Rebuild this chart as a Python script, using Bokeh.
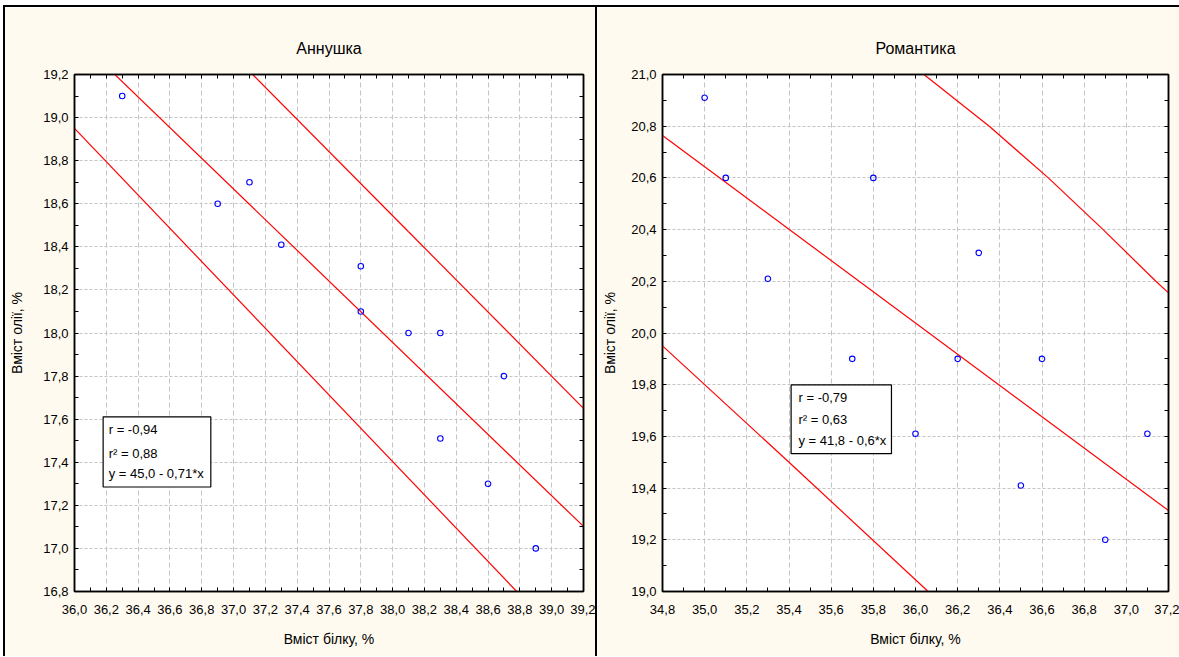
import numpy as np
from bokeh.plotting import figure
from bokeh.layouts import row, column
from bokeh.models import (LinearAxis, FixedTicker, CustomJSTickFormatter, Range1d,
                          Label, BoxAnnotation, Spacer, CustomLabelingPolicy)
from bokeh.embed import file_html
from bokeh.resources import INLINE

# ---------------- data ----------------
# Panel 1: "Аннушка"
ann_protein = [36.3, 36.9, 37.1, 37.3, 37.8, 37.8, 38.1, 38.3, 38.3, 38.6, 38.7, 38.9]
ann_oil = [19.1, 18.6, 18.7, 18.41, 18.31, 18.1, 18.0, 18.0, 17.51, 17.3, 17.8, 17.0]
ann_upper_x = [37.12, 38.1, 39.2]
ann_upper_y = [19.2, 18.47, 17.65]
ann_lower_x = [36.0, 38.78]
ann_lower_y = [18.95, 16.8]
ann_stats = ["r = -0,94", "r² = 0,88", "y = 45,0 - 0,71*x"]
ann_xticks = [36.0, 36.2, 36.4, 36.6, 36.8, 37.0, 37.2, 37.4, 37.6, 37.8, 38.0,
              38.2, 38.4, 38.6, 38.8, 39.0, 39.2]
ann_yticks = [16.8, 17.0, 17.2, 17.4, 17.6, 17.8, 18.0, 18.2, 18.4, 18.6, 18.8, 19.0, 19.2]

# Panel 2: "Романтика"
rom_protein = [35.0, 35.1, 35.3, 35.7, 35.8, 36.0, 36.2, 36.3, 36.5, 36.6, 36.9, 37.1]
rom_oil = [20.91, 20.6, 20.21, 19.9, 20.6, 19.61, 19.9, 20.31, 19.41, 19.9, 19.2, 19.61]
rom_upper_x = [36.04, 36.35, 36.63, 36.89, 37.14, 37.2]
rom_upper_y = [21.0, 20.8, 20.6, 20.4, 20.2, 20.155]
rom_lower_x = [34.8, 35.4, 36.06]
rom_lower_y = [19.95, 19.5, 19.0]
rom_stats = ["r = -0,79", "r² = 0,63", "y = 41,8 - 0,6*x"]
rom_xticks = [34.8, 35.0, 35.2, 35.4, 35.6, 35.8, 36.0, 36.2, 36.4, 36.6, 36.8, 37.0, 37.2]
rom_yticks = [19.0, 19.2, 19.4, 19.6, 19.8, 20.0, 20.2, 20.4, 20.6, 20.8, 21.0]

titles = ["Аннушка", "Романтика"]
x_label = "Вміст білку, %"
y_label = "Вміст олії, %"

# ---------------- styling ----------------
FONT = "Liberation Sans"
CREAM = "#FFFAEF"
GRID = "#C4C4C4"
RED = "#FF0000"
FIG_H = 651


def minors(ticks):
    return [round((a + b) / 2, 3) for a, b in zip(ticks[:-1], ticks[1:])]


def red_path(p, xs, ys):
    p.segment(x0=xs[:-1], y0=ys[:-1], x1=xs[1:], y1=ys[1:],
              line_color=RED, line_width=1.2)


def make_panel(title, xs, ys, up_x, up_y, lo_x, lo_y, stats, xt, yt,
               width, mb_left, mb_right, ylab_standoff, box, text_x, text_ys, border_css):
    fmt = CustomJSTickFormatter(code="return tick.toFixed(1).replace('.', ',');")
    p = figure(width=width, height=FIG_H,
               x_range=Range1d(xt[0], xt[-1]), y_range=Range1d(yt[0], yt[-1]),
               min_border_left=mb_left, min_border_right=mb_right,
               min_border_top=67, min_border_bottom=67,
               toolbar_location=None, output_backend="svg",
               background_fill_color="white", border_fill_color=CREAM,
               outline_line_color="black", outline_line_width=1.5,
               styles=border_css)
    p.title.text = title
    p.title.align = "center"
    p.title.text_font = FONT
    p.title.text_font_size = "16px"
    p.title.text_font_style = "normal"
    p.title.text_color = "black"
    p.title.standoff = 36

    xtick = FixedTicker(ticks=xt, minor_ticks=minors(xt))
    ytick = FixedTicker(ticks=yt, minor_ticks=minors(yt))

    for ax, tk in ((p.xaxis[0], xtick), (p.yaxis[0], ytick)):
        ax.ticker = tk
        ax.formatter = fmt
        ax.major_tick_in = 4
        ax.major_tick_out = 0
        ax.minor_tick_in = 4
        ax.minor_tick_out = 0
        ax.axis_line_color = "black"
        ax.axis_line_width = 1.5
        ax.major_tick_line_color = "black"
        ax.minor_tick_line_color = "black"
        ax.major_label_text_font = FONT
        ax.major_label_text_font_size = "13px"
        ax.major_label_text_color = "black"
        ax.major_label_standoff = 6
        ax.axis_label_text_font = FONT
        ax.axis_label_text_font_size = "14px"
        ax.axis_label_text_font_style = "normal"
        ax.axis_label_text_color = "black"
    p.xaxis[0].axis_label = x_label
    p.xaxis[0].axis_label_standoff = 14
    p.xaxis[0].major_label_standoff = 13
    p.yaxis[0].axis_label = y_label
    p.yaxis[0].axis_label_standoff = ylab_standoff

    hide = CustomLabelingPolicy(code="return [];")
    blank = CustomJSTickFormatter(code="return '';")
    for side, tk in (("above", xtick), ("right", ytick)):
        ax = LinearAxis(ticker=tk, formatter=blank, major_label_policy=hide,
                        major_label_text_font_size="0px",
                        major_label_standoff=0, major_tick_in=4, major_tick_out=0,
                        minor_tick_in=4, minor_tick_out=0, axis_line_color="black",
                        axis_line_width=1.5)
        p.add_layout(ax, side)

    p.xgrid.ticker = xtick
    p.ygrid.ticker = ytick
    p.xgrid.grid_line_color = GRID
    p.xgrid.grid_line_dash = "5 3"
    p.ygrid.grid_line_color = GRID
    p.ygrid.grid_line_dash = "3 2"

    # regression line fitted to the data
    slope, icpt = np.polyfit(xs, ys, 1)
    fx = [xt[0], xt[-1]]
    red_path(p, fx, [icpt + slope * v for v in fx])
    red_path(p, up_x, up_y)
    red_path(p, lo_x, lo_y)

    p.scatter(xs, ys, marker="circle", size=5.5, fill_color=None,
              line_color="blue", line_width=1.1)

    p.add_layout(BoxAnnotation(left=box[0], right=box[1], bottom=box[2], top=box[3],
                               fill_color="white", fill_alpha=1.0,
                               line_color="black", line_width=1.2, line_alpha=1.0))
    for txt, ty in zip(stats, text_ys):
        p.add_layout(Label(x=text_x, y=ty, text=txt, text_font=FONT,
                           text_font_size="13px", text_baseline="middle",
                           text_color="black"))
    return p


p1 = make_panel(titles[0], ann_protein, ann_oil, ann_upper_x, ann_upper_y,
                ann_lower_x, ann_lower_y, ann_stats, ann_xticks, ann_yticks,
                width=594, mb_left=69, mb_right=16, ylab_standoff=15,
                box=(36.18, 36.857, 17.285, 17.611), text_x=36.215,
                text_ys=(17.55, 17.44, 17.35),
                border_css={"border-top": "2px solid black",
                            "border-left": "2px solid black",
                            "border-right": "2px solid black"})

p2 = make_panel(titles[1], rom_protein, rom_oil, rom_upper_x, rom_upper_y,
                rom_lower_x, rom_lower_y, rom_stats, rom_xticks, rom_yticks,
                width=582, mb_left=65, mb_right=11, ylab_standoff=10,
                box=(35.41, 35.886, 19.533, 19.799), text_x=35.445,
                text_ys=(19.752, 19.664, 19.586),
                border_css={"border-top": "2px solid black"})

layout = column(Spacer(height=5, width=1179),
                row(Spacer(width=3, height=FIG_H), p1, p2, spacing=0),
                spacing=0)
open("out.html", "w").write(file_html(layout, INLINE))
